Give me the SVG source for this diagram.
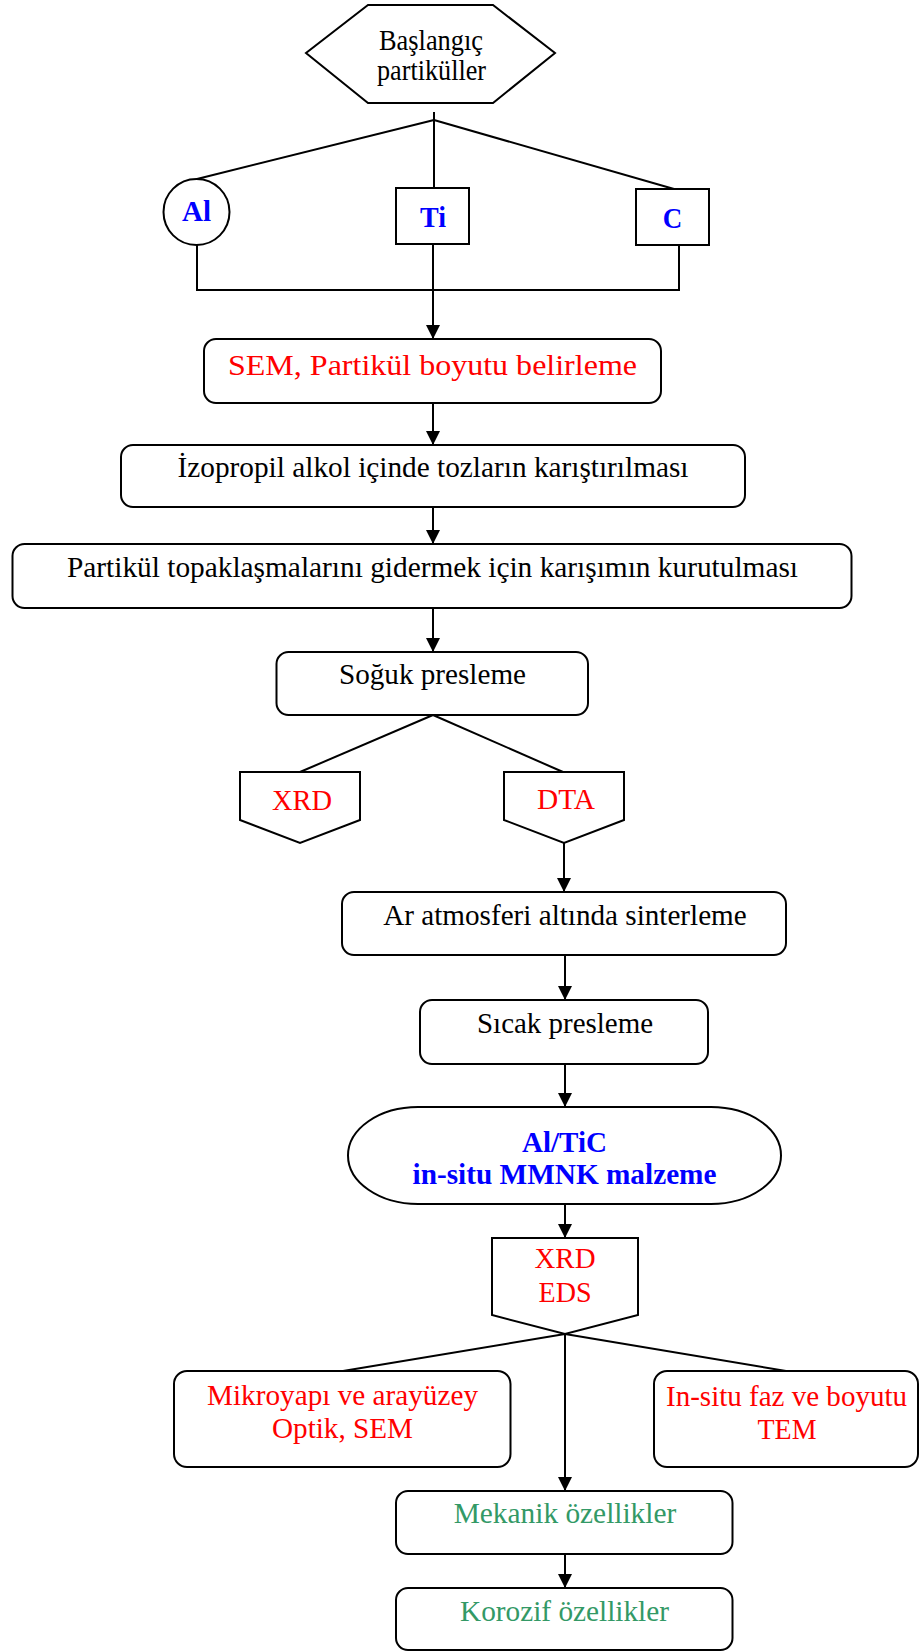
<svg xmlns="http://www.w3.org/2000/svg" width="923" height="1652" viewBox="0 0 923 1652">
  <style>
    .shape { fill: #ffffff; stroke: #000000; stroke-width: 2; }
    .line { fill: none; stroke: #000000; stroke-width: 2; }
    .t { font-family: "Liberation Serif", "Times New Roman", serif; font-size: 30px; text-anchor: middle; fill: #000000; }
    .red { fill: #ff0000; }
    .blue { fill: #0000ff; font-weight: bold; }
    .green { fill: #339966; }
  </style>
  <defs>
    <marker id="arrow" markerUnits="userSpaceOnUse" markerWidth="14" markerHeight="14" refX="14" refY="7" orient="auto">
      <path d="M0,0 L14,7 L0,14 z" fill="#000000"/>
    </marker>
  </defs>
  <rect width="923" height="1652" fill="#ffffff"/>

  <!-- connectors -->
  <g id="connectors">
    <line class="line" x1="434" y1="112" x2="434" y2="188"/>
    <line class="line" x1="434" y1="120" x2="197" y2="179"/>
    <line class="line" x1="434" y1="120" x2="674" y2="189"/>
    <polyline class="line" points="197,245 197,290 679,290 679,245"/>
    <line class="line" x1="433" y1="244" x2="433" y2="339" marker-end="url(#arrow)"/>
    <line class="line" x1="433" y1="403" x2="433" y2="445" marker-end="url(#arrow)"/>
    <line class="line" x1="433" y1="507" x2="433" y2="544" marker-end="url(#arrow)"/>
    <line class="line" x1="433" y1="608" x2="433" y2="652" marker-end="url(#arrow)"/>
    <line class="line" x1="433" y1="715" x2="300" y2="772"/>
    <line class="line" x1="433" y1="715" x2="563" y2="772"/>
    <line class="line" x1="564" y1="843" x2="564" y2="892" marker-end="url(#arrow)"/>
    <line class="line" x1="565" y1="955" x2="565" y2="1000" marker-end="url(#arrow)"/>
    <line class="line" x1="565" y1="1064" x2="565" y2="1107" marker-end="url(#arrow)"/>
    <line class="line" x1="565" y1="1204" x2="565" y2="1238" marker-end="url(#arrow)"/>
    <line class="line" x1="565" y1="1334" x2="343" y2="1371"/>
    <line class="line" x1="565" y1="1334" x2="786" y2="1371"/>
    <line class="line" x1="565" y1="1334" x2="565" y2="1491" marker-end="url(#arrow)"/>
    <line class="line" x1="565" y1="1554" x2="565" y2="1588" marker-end="url(#arrow)"/>
  </g>

  <!-- start: raw powders -->
  <g id="start">
    <polygon class="shape" points="368,5 493,5 555,53 493,103 368,103 306,53"/>
    <text class="t" x="431" y="49.5" font-size="28" textLength="104" lengthAdjust="spacingAndGlyphs">Başlangıç</text>
    <text class="t" x="431.5" y="80" font-size="28" textLength="109" lengthAdjust="spacingAndGlyphs">partiküller</text>
  </g>

  <g id="al">
    <circle class="shape" cx="196.5" cy="212" r="33"/>
    <text class="t blue" x="196.5" y="221" font-size="29" textLength="29" lengthAdjust="spacingAndGlyphs">Al</text>
  </g>

  <g id="ti">
    <rect class="shape" x="396" y="188" width="73" height="56"/>
    <text class="t blue" x="433" y="227" font-size="29" textLength="26" lengthAdjust="spacingAndGlyphs">Ti</text>
  </g>

  <g id="c">
    <rect class="shape" x="636" y="189" width="73" height="56"/>
    <text class="t blue" x="672.5" y="228" font-size="29" textLength="19.5" lengthAdjust="spacingAndGlyphs">C</text>
  </g>

  <g id="sem">
    <rect class="shape" x="204" y="339" width="457" height="64" rx="12"/>
    <text class="t red" x="432.5" y="375" font-size="33" textLength="409" lengthAdjust="spacingAndGlyphs">SEM, Partikül boyutu belirleme</text>
  </g>

  <g id="mixing">
    <rect class="shape" x="121" y="445" width="624" height="62" rx="12"/>
    <text class="t" x="433" y="477" textLength="511" lengthAdjust="spacingAndGlyphs">İzopropil alkol içinde tozların karıştırılması</text>
  </g>

  <g id="drying">
    <rect class="shape" x="12.5" y="544" width="839" height="64" rx="12"/>
    <text class="t" x="432.5" y="577" textLength="731" lengthAdjust="spacingAndGlyphs">Partikül topaklaşmalarını gidermek için karışımın kurutulması</text>
  </g>

  <g id="cold-press">
    <rect class="shape" x="276.5" y="652" width="311.5" height="63" rx="12"/>
    <text class="t" x="432.5" y="684" textLength="187" lengthAdjust="spacingAndGlyphs">Soğuk presleme</text>
  </g>

  <g id="xrd1">
    <polygon class="shape" points="240,772 360,772 360,820 300,843 240,820"/>
    <text class="t red" x="302" y="810" textLength="60" lengthAdjust="spacingAndGlyphs">XRD</text>
  </g>

  <g id="dta">
    <polygon class="shape" points="504,772 624,772 624,820 564,843 504,820"/>
    <text class="t red" x="566" y="809" textLength="58" lengthAdjust="spacingAndGlyphs">DTA</text>
  </g>

  <g id="sintering">
    <rect class="shape" x="342" y="892" width="444" height="63" rx="12"/>
    <text class="t" x="565" y="925" textLength="363.5" lengthAdjust="spacingAndGlyphs">Ar atmosferi altında sinterleme</text>
  </g>

  <g id="hot-press">
    <rect class="shape" x="420" y="1000" width="288" height="64" rx="12"/>
    <text class="t" x="565" y="1033" textLength="176" lengthAdjust="spacingAndGlyphs">Sıcak presleme</text>
  </g>

  <g id="composite">
    <rect class="shape" x="348" y="1107" width="433" height="97" rx="70" ry="48.5"/>
    <text class="t blue" x="564.5" y="1152" textLength="85" lengthAdjust="spacingAndGlyphs">Al/TiC</text>
    <text class="t blue" x="564.5" y="1184" textLength="304" lengthAdjust="spacingAndGlyphs">in-situ MMNK malzeme</text>
  </g>

  <g id="xrd-eds">
    <polygon class="shape" points="492,1238 638,1238 638,1315 565,1334 492,1315"/>
    <text class="t red" x="565" y="1268" textLength="61" lengthAdjust="spacingAndGlyphs">XRD</text>
    <text class="t red" x="565" y="1302" textLength="53" lengthAdjust="spacingAndGlyphs">EDS</text>
  </g>

  <g id="microstructure">
    <rect class="shape" x="174" y="1371" width="336.5" height="96" rx="13"/>
    <text class="t red" x="342.5" y="1405" textLength="271" lengthAdjust="spacingAndGlyphs">Mikroyapı ve arayüzey</text>
    <text class="t red" x="342.5" y="1438" textLength="141" lengthAdjust="spacingAndGlyphs">Optik, SEM</text>
  </g>

  <g id="insitu-phase">
    <rect class="shape" x="654" y="1371" width="264" height="96" rx="13"/>
    <text class="t red" x="786.5" y="1406" textLength="241" lengthAdjust="spacingAndGlyphs">In-situ faz ve boyutu</text>
    <text class="t red" x="787" y="1439" textLength="59" lengthAdjust="spacingAndGlyphs">TEM</text>
  </g>

  <g id="mechanical">
    <rect class="shape" x="396" y="1491" width="336.5" height="63" rx="12"/>
    <text class="t green" x="565" y="1523" textLength="222.5" lengthAdjust="spacingAndGlyphs">Mekanik özellikler</text>
  </g>

  <g id="corrosion">
    <rect class="shape" x="396" y="1588" width="336.5" height="62" rx="12"/>
    <text class="t green" x="564.5" y="1621" textLength="209" lengthAdjust="spacingAndGlyphs">Korozif özellikler</text>
  </g>
</svg>
